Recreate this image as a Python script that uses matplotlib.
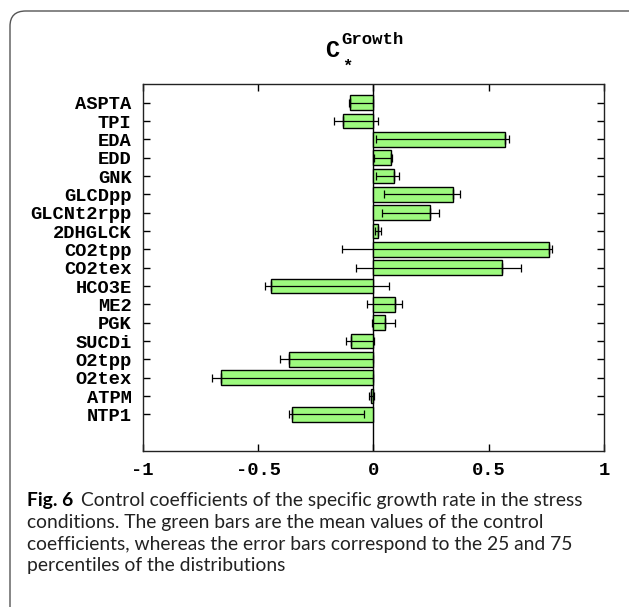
import numpy as np
import matplotlib
matplotlib.use("Agg")
import matplotlib.pyplot as plt
from matplotlib.patches import FancyBboxPatch

# reactions, top to bottom
labels = ["ASPTA", "TPI", "EDA", "EDD", "GNK", "GLCDpp", "GLCNt2rpp", "2DHGLCK",
          "CO2tpp", "CO2tex", "HCO3E", "ME2", "PGK", "SUCDi", "O2tpp", "O2tex",
          "ATPM", "NTP1"]
# mean control coefficients
mean = [-0.100, -0.130, 0.572, 0.075, 0.091, 0.347, 0.247, 0.020,
        0.762, 0.558, -0.445, 0.095, 0.052, -0.098, -0.367, -0.659,
        -0.010, -0.354]
# 25 and 75 percentiles
p25 = [-0.107, -0.170, 0.010, 0.003, 0.013, 0.045, 0.038, 0.006,
       -0.136, -0.076, -0.471, -0.026, -0.007, -0.120, -0.406, -0.699,
       -0.017, -0.367]
p75 = [-0.003, 0.022, 0.588, 0.082, 0.113, 0.376, 0.285, 0.032,
       0.773, 0.639, 0.068, 0.124, 0.095, 0.003, 0.000, 0.000,
       0.003, -0.039]

mono = "Liberation Mono"
W, H = 629, 607
fig = plt.figure(figsize=(W / 100, H / 100), dpi=100)
ax = fig.add_axes([142.7 / W, 1 - 451 / H, (604 - 142.7) / W, (451 - 84) / H])

y = np.arange(len(labels))[::-1]
mean = np.array(mean)
lo = np.clip(mean - np.array(p25), 0, None)
hi = np.clip(np.array(p75) - mean, 0, None)

ax.axvline(0, color="black", lw=1.0, zorder=1)
ax.barh(y, mean, height=0.8, color="#9dfa7e", edgecolor="black", linewidth=1.0, zorder=2)
ax.errorbar(mean, y, xerr=[lo, hi], fmt="|", color="black", ecolor="black",
            elinewidth=0.9, capsize=3, capthick=0.9, markersize=7, zorder=3)

ax.set_xlim(-1, 1)
ax.set_ylim(-2, 18.02)
ax.set_xticks([-1, -0.5, 0, 0.5, 1])
ax.set_xticklabels(["-1", "-0.5", "0", "0.5", "1"])
ax.set_yticks(y)
ax.set_yticklabels(labels)
ax.tick_params(axis="both", direction="in", length=5, width=1,
               top=True, right=True, labelsize=13.5, pad=8)
for t in ax.get_xticklabels() + ax.get_yticklabels():
    t.set_fontfamily(mono)
    t.set_fontweight("bold")
for s in ax.spines.values():
    s.set_linewidth(1.0)
    s.set_color("#222222")

# title C_*^Growth
fig.text(325 / W, 1 - 57 / H, "C", fontsize=17, family=mono, fontweight="bold", va="baseline")
fig.text(341 / W, 1 - 44 / H, "Growth", fontsize=12.5, family=mono, fontweight="bold", va="baseline")
fig.text(342 / W, 1 - 71 / H, "*", fontsize=12.5, family=mono, fontweight="bold", va="baseline")

# caption
cap_font = "Lato"
fs = 13.9
x0 = 27 / W
t1 = fig.text(x0, 1 - 506 / H, "Fig. 6", fontsize=fs, family=cap_font, fontweight="bold", va="baseline")
fig.canvas.draw()
bb = t1.get_window_extent()
fig.text((bb.x1 + 8) / W, 1 - 506 / H,
         "Control coefficients of the specific growth rate in the stress",
         fontsize=fs, family=cap_font, va="baseline", color="#222222")
lines = ["conditions. The green bars are the mean values of the control",
         "coefficients, whereas the error bars correspond to the 25 and 75",
         "percentiles of the distributions"]
for i, s in enumerate(lines):
    fig.text(x0, 1 - (528 + 21.7 * i) / H, s, fontsize=fs, family=cap_font,
             va="baseline", color="#222222")

# rounded frame (only top and left visible)
frame = FancyBboxPatch((10 / W, -0.2), 1.2, 1 - 11 / H + 0.2,
                       boxstyle="round,pad=0,rounding_size=0.025",
                       transform=fig.transFigure, fill=False,
                       edgecolor="#555555", linewidth=1.0, clip_on=False)
fig.patches.append(frame)

fig.savefig("out.png", dpi=100)
